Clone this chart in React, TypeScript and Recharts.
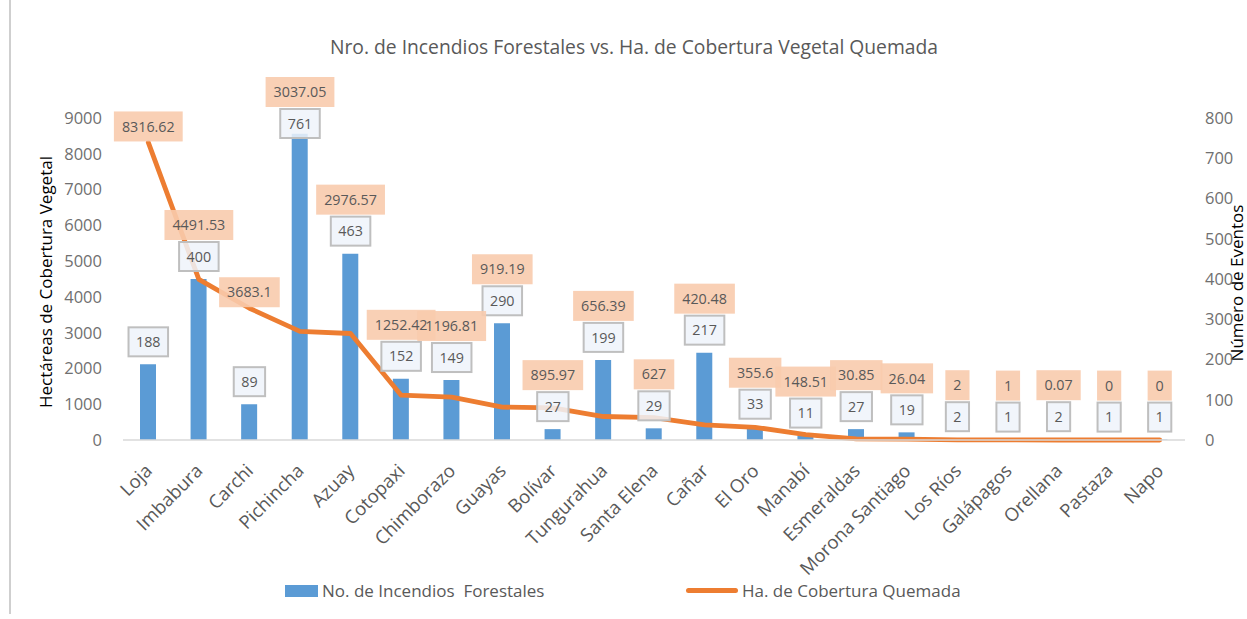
import React from 'react';
import { ComposedChart, Bar, Line, XAxis, YAxis, LabelList, Legend } from 'recharts';

const provinces = ['Loja', 'Imbabura', 'Carchi', 'Pichincha', 'Azuay', 'Cotopaxi', 'Chimborazo', 'Guayas', 'Bolívar', 'Tungurahua', 'Santa Elena', 'Cañar', 'El Oro', 'Manabí', 'Esmeraldas', 'Morona Santiago', 'Los Ríos', 'Galápagos', 'Orellana', 'Pastaza', 'Napo'];
const incendios = [188, 400, 89, 761, 463, 152, 149, 290, 27, 199, 29, 217, 33, 11, 27, 19, 2, 1, 2, 1, 1];
const hectareas = [8316.62, 4491.53, 3683.1, 3037.05, 2976.57, 1252.42, 1196.81, 919.19, 895.97, 656.39, 627, 420.48, 355.6, 148.51, 30.85, 26.04, 2, 1, 0.07, 0, 0];
const leftTicks = [0, 1000, 2000, 3000, 4000, 5000, 6000, 7000, 8000, 9000];
const rightTicks = [0, 100, 200, 300, 400, 500, 600, 700, 800];

const title = 'Nro. de Incendios Forestales vs. Ha. de Cobertura Vegetal Quemada';
const barName = 'No. de Incendios  Forestales';
const lineName = 'Ha. de Cobertura Quemada';
const leftTitle = 'Hectáreas de Cobertura Vegetal';
const rightTitle = 'Número de Eventos';

const data = provinces.map((p, i) => ({ name: p, incendios: incendios[i], hectareas: hectareas[i] }));

const W = 1247;
const H = 619;
const PLOT_TOP = 118;
const PLOT_BOTTOM = 440;
const LEFT_MAX = 9000;
const RIGHT_MAX = 800;
const FONT = '"Open Sans", "Noto Sans", sans-serif';
const LABEL_SIZE = 14.3;
const LABEL_PAD = 7.5;
const BOX_H = 29;
const LINE_BOX_H = 30;
const LABEL_MIN_TOP = 109;

let ctx: CanvasRenderingContext2D | null = null;
function textWidth(s: string, size: number) {
  if (!ctx) ctx = document.createElement('canvas').getContext('2d');
  if (!ctx) return s.length * size * 0.57;
  ctx.font = `${size}px "Open Sans"`;
  return ctx.measureText(s).width;
}

function barLabelTop(barTopY: number) {
  return Math.max(barTopY - 8 - BOX_H, LABEL_MIN_TOP);
}

function lineLabelTop(props: any) {
  const { y, value, index } = props;
  const idx = typeof index === 'number' ? index : hectareas.indexOf(value);
  const count = incendios[idx] ?? 0;
  const barTopY = PLOT_BOTTOM - (count / RIGHT_MAX) * (PLOT_BOTTOM - PLOT_TOP);
  const bottom = Math.min(y - 1, barLabelTop(barTopY) - 2);
  return bottom - LINE_BOX_H;
}

const BarLabelBox = (props: any) => {
  const { x, y, value } = props;
  const w = textWidth(String(value), LABEL_SIZE) + 2 * LABEL_PAD;
  const top = barLabelTop(y);
  return <rect x={x - w / 2} y={top} width={w} height={BOX_H} fill="#EEF3FA" fillOpacity={0.85} stroke="#BFBFBF" strokeWidth={2} />;
};

const BarLabelText = (props: any) => {
  const { x, y, value } = props;
  const top = barLabelTop(y);
  return <text x={x} y={top + BOX_H / 2} dy="0.36em" textAnchor="middle" fontFamily={FONT} fontSize={LABEL_SIZE} fill="#595959">{String(value)}</text>;
};

const LineLabelBox = (props: any) => {
  const { x, value } = props;
  const w = textWidth(String(value), LABEL_SIZE) + 2 * LABEL_PAD + 1;
  const top = lineLabelTop(props);
  return <rect x={x - w / 2} y={top} width={w} height={LINE_BOX_H} fill="#F8CBAD" fillOpacity={0.9} />;
};

const LineLabelText = (props: any) => {
  const { x, value } = props;
  const top = lineLabelTop(props);
  return <text x={x} y={top + LINE_BOX_H / 2} dy="0.36em" textAnchor="middle" fontFamily={FONT} fontSize={LABEL_SIZE} fill="#595959">{String(value)}</text>;
};

const XTick = (props: any) => {
  const { x, y, payload } = props;
  const ax = x + 5;
  const ay = y + 24;
  return (
    <text x={ax} y={ay} transform={`rotate(-45, ${ax}, ${ay})`} textAnchor="end" fontFamily={FONT} fontSize={18.5} fill="#595959">
      {payload.value}
    </text>
  );
};

const LegendContent = () => (
  <div style={{ position: 'relative', width: W, height: 30, fontFamily: FONT, fontSize: 17, color: '#595959' }}>
    <div style={{ position: 'absolute', left: 285, top: 7, width: 33, height: 12, background: '#5B9BD5' }} />
    <div style={{ position: 'absolute', left: 322, top: 0, lineHeight: '26px', whiteSpace: 'pre' }}>{barName}</div>
    <div style={{ position: 'absolute', left: 686, top: 10, width: 52, height: 5, borderRadius: 3, background: '#ED7D31' }} />
    <div style={{ position: 'absolute', left: 742, top: 0, lineHeight: '26px', whiteSpace: 'pre' }}>{lineName}</div>
  </div>
);

export default function App() {
  return (
    <div style={{ position: 'fixed', left: 0, top: 0, width: W, height: H, background: '#fff', overflow: 'hidden' }}>
      <div style={{ position: 'absolute', left: 9, top: 0, width: 2, height: 614, background: '#CFCFCF' }} />
      <div style={{ position: 'absolute', left: 234, width: 800, top: 34, lineHeight: '26px', textAlign: 'center', fontFamily: FONT, fontSize: 19.3, color: '#595959' }}>{title}</div>
      <ComposedChart width={W} height={H} data={data} margin={{ top: PLOT_TOP, right: 0, bottom: 0, left: 0 }}>
        <XAxis dataKey="name" interval={0} tickLine={false} axisLine={{ stroke: '#D9D9D9', strokeWidth: 1.5 }} height={H - PLOT_BOTTOM} tick={<XTick />} />
        <YAxis
          yAxisId="left"
          orientation="left"
          width={123}
          domain={[0, LEFT_MAX]}
          ticks={leftTicks}
          axisLine={false}
          tickLine={false}
          tickSize={0}
          tickMargin={21}
          tick={{ fontFamily: FONT, fontSize: 16.5, fill: '#707070' }}
          label={(p: any) => {
            const vb = p.viewBox || { x: 0, y: PLOT_TOP, width: 123, height: PLOT_BOTTOM - PLOT_TOP };
            const cx = vb.x + 46;
            const cy = vb.y + vb.height / 2 + 3;
            return (
              <text x={cx} y={cy} transform={`rotate(-90, ${cx}, ${cy})`} textAnchor="middle" dy="0.36em" fontFamily={FONT} fontSize={17} fill="#000">{leftTitle}</text>
            );
          }}
        />
        <YAxis
          yAxisId="right"
          orientation="right"
          width={W - 1185}
          domain={[0, RIGHT_MAX]}
          ticks={rightTicks}
          axisLine={false}
          tickLine={false}
          tickSize={0}
          tickMargin={20}
          tick={{ fontFamily: FONT, fontSize: 16.5, fill: '#707070', textAnchor: 'start' }}
          label={(p: any) => {
            const vb = p.viewBox || { x: 1185, y: PLOT_TOP, width: 62, height: PLOT_BOTTOM - PLOT_TOP };
            const cx = vb.x + 52;
            const cy = vb.y + vb.height / 2 + 4;
            return (
              <text x={cx} y={cy} transform={`rotate(-90, ${cx}, ${cy})`} textAnchor="middle" dy="0.36em" fontFamily={FONT} fontSize={17} fill="#000">{rightTitle}</text>
            );
          }}
        />
        <Bar yAxisId="right" dataKey="incendios" name={barName} fill="#5B9BD5" barSize={16} isAnimationActive={false} />
        <Line yAxisId="left" dataKey="hectareas" name={lineName} type="linear" stroke="#ED7D31" strokeWidth={4.8} strokeLinecap="round" strokeLinejoin="round" dot={false} activeDot={false} isAnimationActive={false} />
        <Line yAxisId="right" dataKey="incendios" stroke="none" dot={false} activeDot={false} legendType="none" isAnimationActive={false}>
          <LabelList dataKey="incendios" content={<BarLabelBox />} />
          <LabelList dataKey="incendios" content={<BarLabelText />} />
        </Line>
        <Line yAxisId="left" dataKey="hectareas" stroke="none" dot={false} activeDot={false} legendType="none" isAnimationActive={false}>
          <LabelList dataKey="hectareas" content={<LineLabelBox />} />
          <LabelList dataKey="hectareas" content={<LineLabelText />} />
        </Line>
        <Legend layout="horizontal" verticalAlign="middle" align="center" wrapperStyle={{ position: 'absolute', top: 578, left: 0, width: W, height: 30 }} content={<LegendContent />} />
      </ComposedChart>
    </div>
  );
}
